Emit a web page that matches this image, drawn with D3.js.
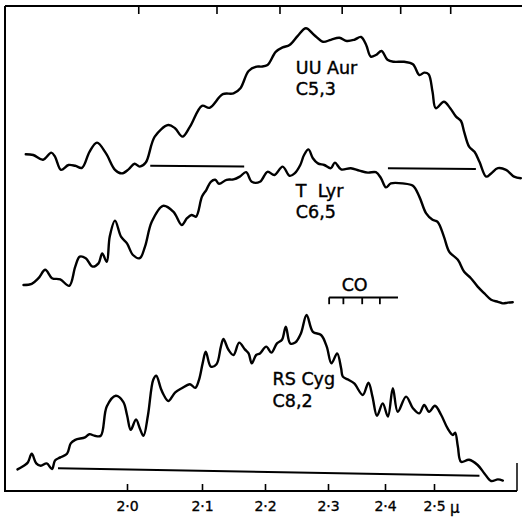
<!DOCTYPE html>
<html><head><meta charset="utf-8">
<script src="https://cdn.jsdelivr.net/npm/d3@7"></script>
<style>body{margin:0;background:#fff}svg{display:block}</style>
</head><body>
<svg id="c" width="522" height="522"></svg>
<script>
// ---- data (wavelength in micron, relative intensity with vertical offsets) ----
const bottomTicks = [2.0, 2.1, 2.2, 2.3, 2.4, 2.5];
const topTicks = [2.015, 2.123, 2.223, 2.324, 2.431, 2.536];
const coTicks = [2.302, 2.327, 2.360, 2.391];
const coBar = [2.302, 2.4265];
const coLevel = 48.4;

const uuAur = [[1.865,84.2],[1.875,84.0],[1.888,82.8],[1.899,84.6],[1.904,83.6],[1.912,80.3],[1.922,81.5],[1.931,81.3],[1.940,80.8],[1.950,84.8],[1.960,87.1],[1.972,84.4],[1.984,80.3],[1.993,79.4],[2.002,80.4],[2.010,81.8],[2.017,81.1],[2.025,82.1],[2.037,88.6],[2.055,91.5],[2.064,90.7],[2.074,88.6],[2.084,91.1],[2.100,96.3],[2.112,95.8],[2.133,99.2],[2.150,99.4],[2.161,100.7],[2.174,105.0],[2.187,106.1],[2.194,106.1],[2.204,106.5],[2.217,109.8],[2.228,110.9],[2.239,111.5],[2.252,113.8],[2.265,115.7],[2.278,114.0],[2.292,112.3],[2.305,112.8],[2.320,113.3],[2.333,112.5],[2.346,112.8],[2.358,113.5],[2.367,111.5],[2.375,108.6],[2.384,109.0],[2.394,110.0],[2.405,107.8],[2.418,107.3],[2.439,107.3],[2.457,106.7],[2.470,104.0],[2.480,104.6],[2.489,104.2],[2.497,99.8],[2.504,95.7],[2.522,97.3],[2.536,95.7],[2.549,93.6],[2.560,92.5],[2.567,89.8],[2.578,86.1],[2.590,84.8],[2.601,82.3],[2.616,78.6],[2.627,79.4],[2.642,80.7],[2.660,80.3],[2.678,78.6],[2.693,78.2]];
const uuAurBase = [[[2.031,81.3],[2.167,81.1]], [[2.406,80.7],[2.593,80.5]]];

const tLyr = [[1.862,51.5],[1.873,51.8],[1.882,53.2],[1.891,55.3],[1.900,53.2],[1.911,52.9],[1.923,51.3],[1.931,56.1],[1.937,58.6],[1.945,58.2],[1.954,56.1],[1.962,56.9],[1.967,59.4],[1.973,57.3],[1.977,63.6],[1.984,67.6],[1.992,63.6],[2.000,61.9],[2.008,59.0],[2.017,58.2],[2.024,61.1],[2.033,67.3],[2.048,71.3],[2.062,69.8],[2.073,66.5],[2.080,68.2],[2.086,69.0],[2.092,68.6],[2.100,73.6],[2.107,75.3],[2.114,77.3],[2.121,77.8],[2.127,76.8],[2.139,77.8],[2.150,77.9],[2.160,78.6],[2.170,79.7],[2.179,77.3],[2.192,77.3],[2.204,79.8],[2.215,79.0],[2.228,81.1],[2.239,78.8],[2.247,79.4],[2.256,81.5],[2.262,84.0],[2.269,85.4],[2.276,83.2],[2.284,81.9],[2.294,81.5],[2.305,80.7],[2.312,82.1],[2.323,80.4],[2.340,80.7],[2.355,80.1],[2.370,79.6],[2.384,79.7],[2.393,78.2],[2.402,75.9],[2.412,76.9],[2.436,76.9],[2.457,76.3],[2.470,73.6],[2.484,69.4],[2.497,67.8],[2.508,67.3],[2.522,63.6],[2.534,59.8],[2.553,57.8],[2.567,54.8],[2.582,53.2],[2.597,51.1],[2.612,49.4],[2.627,47.8],[2.642,47.3],[2.653,46.9],[2.664,47.1],[2.675,47.2]];

const rsCyg = [[1.854,5.4],[1.864,6.5],[1.868,7.2],[1.873,9.3],[1.879,6.9],[1.885,6.3],[1.893,6.9],[1.900,5.5],[1.904,7.6],[1.911,8.4],[1.920,9.3],[1.925,11.9],[1.931,12.8],[1.944,13.4],[1.950,14.2],[1.957,13.8],[1.965,13.8],[1.973,21.1],[1.985,23.8],[1.995,22.3],[2.000,19.0],[2.005,15.3],[2.012,17.9],[2.017,15.7],[2.022,13.8],[2.028,19.0],[2.035,27.8],[2.039,28.8],[2.045,25.7],[2.049,24.0],[2.055,22.5],[2.064,24.6],[2.073,25.7],[2.084,26.7],[2.091,25.8],[2.096,27.8],[2.101,31.9],[2.106,34.8],[2.114,31.1],[2.123,31.7],[2.130,36.1],[2.134,38.0],[2.142,35.3],[2.150,34.0],[2.159,37.1],[2.168,35.4],[2.174,34.4],[2.179,31.9],[2.186,34.0],[2.192,34.4],[2.202,36.1],[2.210,34.6],[2.219,36.9],[2.227,37.8],[2.233,41.1],[2.240,36.9],[2.248,37.1],[2.257,39.4],[2.266,44.0],[2.276,39.8],[2.289,39.0],[2.298,36.1],[2.306,31.9],[2.316,34.4],[2.323,30.7],[2.326,28.6],[2.336,27.8],[2.346,26.9],[2.361,24.0],[2.371,27.1],[2.378,23.6],[2.386,18.8],[2.396,21.9],[2.406,18.6],[2.416,25.7],[2.426,19.8],[2.443,23.6],[2.457,20.7],[2.470,19.4],[2.480,21.5],[2.490,19.8],[2.502,21.3],[2.516,19.0],[2.530,15.7],[2.542,14.0],[2.547,14.6],[2.553,11.1],[2.560,7.3],[2.578,7.8],[2.597,6.5],[2.612,4.4],[2.627,2.5],[2.642,2.9],[2.653,2.6]];
const rsCygBase = [[[1.908,5.7],[2.601,3.8]]];

const starLabels = [
  {name:"UU Aur", cls:"C5,3", w:2.249, i1:104.2, i2:99.0},
  {name:"T  Lyr", cls:"C6,5", w:2.249, i1:73.4, i2:68.2},
  {name:"RS Cyg", cls:"C8,2", w:2.212, i1:26.5, i2:21.1}
];

// ---- scales ----
const svg = d3.select("#c");
const x = d3.scaleLinear()
  .domain([1.84, 2.0, 2.1, 2.2, 2.3, 2.4, 2.5, 2.7])
  .range([7, 127, 202, 265, 328, 385, 434, 524]);
const y = d3.scaleLinear().domain([0, 121]).range([491, 7]);

const fontLabel = "'DejaVu Sans', 'Open Sans', sans-serif";

// frame
const g = svg.append("g");
g.append("line").attr("x1", 5).attr("x2", 522).attr("y1", y(121)-1).attr("y2", y(121)-1)
  .attr("stroke", "#000").attr("stroke-width", 2);
g.append("line").attr("x1", 5).attr("x2", 5).attr("y1", y(121)-1).attr("y2", y(0))
  .attr("stroke", "#000").attr("stroke-width", 2);
g.append("line").attr("x1", 517).attr("x2", 517).attr("y1", y(7)).attr("y2", y(0))
  .attr("stroke", "#000").attr("stroke-width", 1.5);

// bottom axis (ticks point inward)
const bottomAxis = d3.axisBottom(x).tickValues(bottomTicks)
  .tickSizeInner(-7).tickSizeOuter(0).tickPadding(10)
  .tickFormat(d => d.toFixed(1).replace(".", "\u00b7"));
const ax = svg.append("g").attr("transform", `translate(0,${y(0)})`).call(bottomAxis);
ax.attr("font-size", null).attr("font-family", null);
ax.select(".domain").attr("d", `M4,0H517`).attr("stroke", "#000").attr("stroke-width", 2);
ax.selectAll(".tick line").attr("stroke", "#000").attr("stroke-width", 1.6);
ax.selectAll(".tick text").attr("fill", "#000").attr("font-family", fontLabel)
  .style("font-size", "14px").attr("stroke", "#000").attr("stroke-width", 0.35);
svg.append("text").attr("x", x(2.5) + 16).attr("y", y(0) + 22)
  .attr("font-family", fontLabel).style("font-size", "15px")
  .attr("stroke", "#000").attr("stroke-width", 0.35).text("\u03bc");

// top axis ticks
const topAxis = d3.axisTop(x).tickValues(topTicks).tickSizeInner(-8).tickSizeOuter(0).tickFormat("");
const tax = svg.append("g").attr("transform", `translate(0,${y(121)-1})`).call(topAxis);
tax.select(".domain").remove();
tax.selectAll(".tick line").attr("stroke", "#000").attr("stroke-width", 1.6);

// spectra
const line = d3.line().x(d => x(d[0])).y(d => y(d[1])).curve(d3.curveCatmullRom.alpha(0.5));
const straight = d3.line().x(d => x(d[0])).y(d => y(d[1]));

[uuAur, tLyr, rsCyg].forEach(s => {
  svg.append("path").attr("d", line(s)).attr("fill", "none").attr("stroke", "#000")
    .attr("stroke-width", 2.4).attr("stroke-linejoin", "round").attr("stroke-linecap", "round");
});
[...uuAurBase, ...rsCygBase].forEach(seg => {
  svg.append("path").attr("d", straight(seg)).attr("fill", "none").attr("stroke", "#000")
    .attr("stroke-width", 2);
});

// CO band marker
svg.append("path").attr("d", straight(coBar.map(w => [w, coLevel])))
  .attr("stroke", "#000").attr("stroke-width", 2).attr("fill", "none");
svg.selectAll(".cotick").data(coTicks).join("line")
  .attr("x1", d => x(d)).attr("x2", d => x(d))
  .attr("y1", y(coLevel)).attr("y2", y(coLevel - 1.7))
  .attr("stroke", "#000").attr("stroke-width", 1.8);
svg.append("text").attr("x", x(d3.mean(coTicks)) + 1).attr("y", y(coLevel + 1.6))
  .attr("text-anchor", "middle").attr("font-family", fontLabel).attr("font-size", 17.5)
  .attr("stroke", "#000").attr("stroke-width", 0.4).text("CO");

// star labels
starLabels.forEach(l => {
  svg.append("text").attr("x", x(l.w)).attr("y", y(l.i1)).attr("font-family", fontLabel)
    .attr("font-size", 17.5).attr("xml:space", "preserve").style("white-space", "pre")
    .attr("stroke", "#000").attr("stroke-width", 0.4).text(l.name);
  svg.append("text").attr("x", x(l.w)).attr("y", y(l.i2)).attr("font-family", fontLabel)
    .attr("font-size", 17.5).attr("stroke", "#000").attr("stroke-width", 0.4).text(l.cls);
});
</script>
</body></html>
